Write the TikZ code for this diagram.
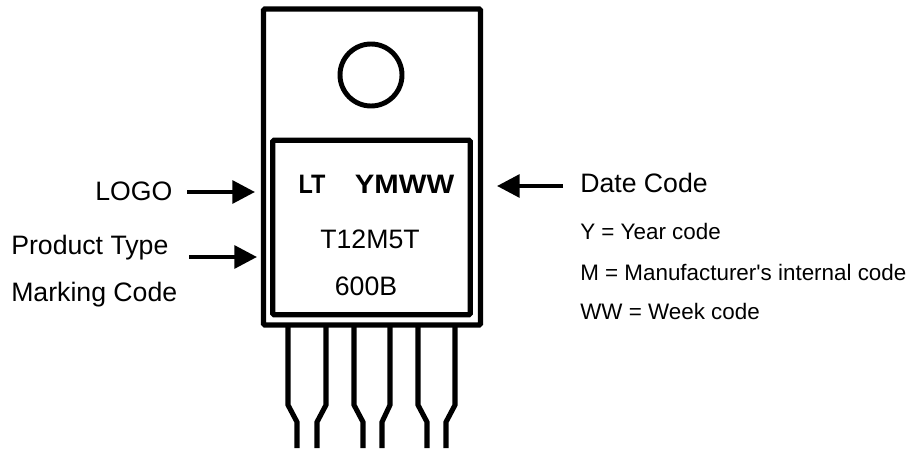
\documentclass[tikz,border=0pt]{standalone}
\usepackage{graphicx}
\usepackage{fontspec}
\setmainfont{Liberation Sans}
\newfontfamily\plainsans{Liberation Sans}
\usetikzlibrary{arrows, arrows.meta}
\tikzset{
  body/.style={draw, line width=3.9pt, rounded corners=1pt, inner sep=0pt},
  lead/.style={line width=3.8pt, miter limit=10},
  pointer/.style={line width=3.1pt, -{Triangle[length=17pt, width=17pt]}},
  bigtext/.style={inner sep=0pt, anchor=base west, font=\fontsize{20}{22}\selectfont},
  smalltext/.style={inner sep=0pt, anchor=base west, font=\plainsans\fontsize{16.8}{18}\selectfont},
  mark bold/.style={inner sep=0pt, anchor=base, font=\fontsize{20}{22}\selectfont\bfseries},
  mark plain/.style={inner sep=0pt, anchor=base, font=\fontsize{20}{22}\selectfont},
}
\begin{document}
\begin{tikzpicture}[x=0.75pt, y=-0.75pt]
      \useasboundingbox (0, 0) rectangle (913, 452);

      % package
      \node[body, minimum width=162.75pt, minimum height=237pt] (case) at (372, 167) {};
      \node[body, minimum width=148pt, minimum height=131pt] (die) at (371.5, 227.5) {};
      \node[circle, draw, line width=3.7pt, inner sep=0pt, minimum size=46.5pt] (hole) at (371, 75) {};

      % pins
      \foreach \name/\xa/\xb in {aa/288/297, ab/326/317, ba/354/363, bb/390/382, ca/418/427, cb/455/446} {
        \coordinate (\name top) at (\xa, 325);
        \coordinate (\name k1) at (\xa, 405);
        \coordinate (\name k2) at (\xb, 422);
        \coordinate (\name end) at (\xb, 448);
        \draw[lead] (\name top) -- (\name k1) -- (\name k2) -- (\name end);
      }

      % marking
      \node[mark bold] (lt) at (312, 194) {\scalebox{0.88}[1]{LT}};
      \node[mark bold] (ymww) at (404.5, 194) {\scalebox{1.1}[1]{YMWW}};
      \node[mark plain] (type) at (370, 248) {T12M5T};
      \node[mark plain] (lot) at (366, 295) {600B};

      % labels on the left
      \node[bigtext] (logo) at (95, 201) {LOGO};
      \node[bigtext] (product) at (11, 254.5) {Product Type};
      \node[bigtext] (marking) at (11, 301) {Marking Code};

      % labels on the right
      \node[bigtext] (date) at (580, 192.5) {Date Code};
      \node[smalltext] (year) at (580, 240) {Y = Year code};
      \node[smalltext] (manu) at (580, 280) {M = Manufacturer's internal code};
      \node[smalltext] (week) at (580, 319) {WW = Week code};

      % arrows
      \coordinate (logo from) at (187, 192);
      \coordinate (logo to) at (255, 192);
      \coordinate (type from) at (189, 257);
      \coordinate (type to) at (257, 257);
      \coordinate (date from) at (563, 186);
      \coordinate (date to) at (497, 186);
      \draw[pointer] (logo from) -- (logo to);
      \draw[pointer] (type from) -- (type to);
      \draw[pointer] (date from) -- (date to);
    \end{tikzpicture}
\end{document}
